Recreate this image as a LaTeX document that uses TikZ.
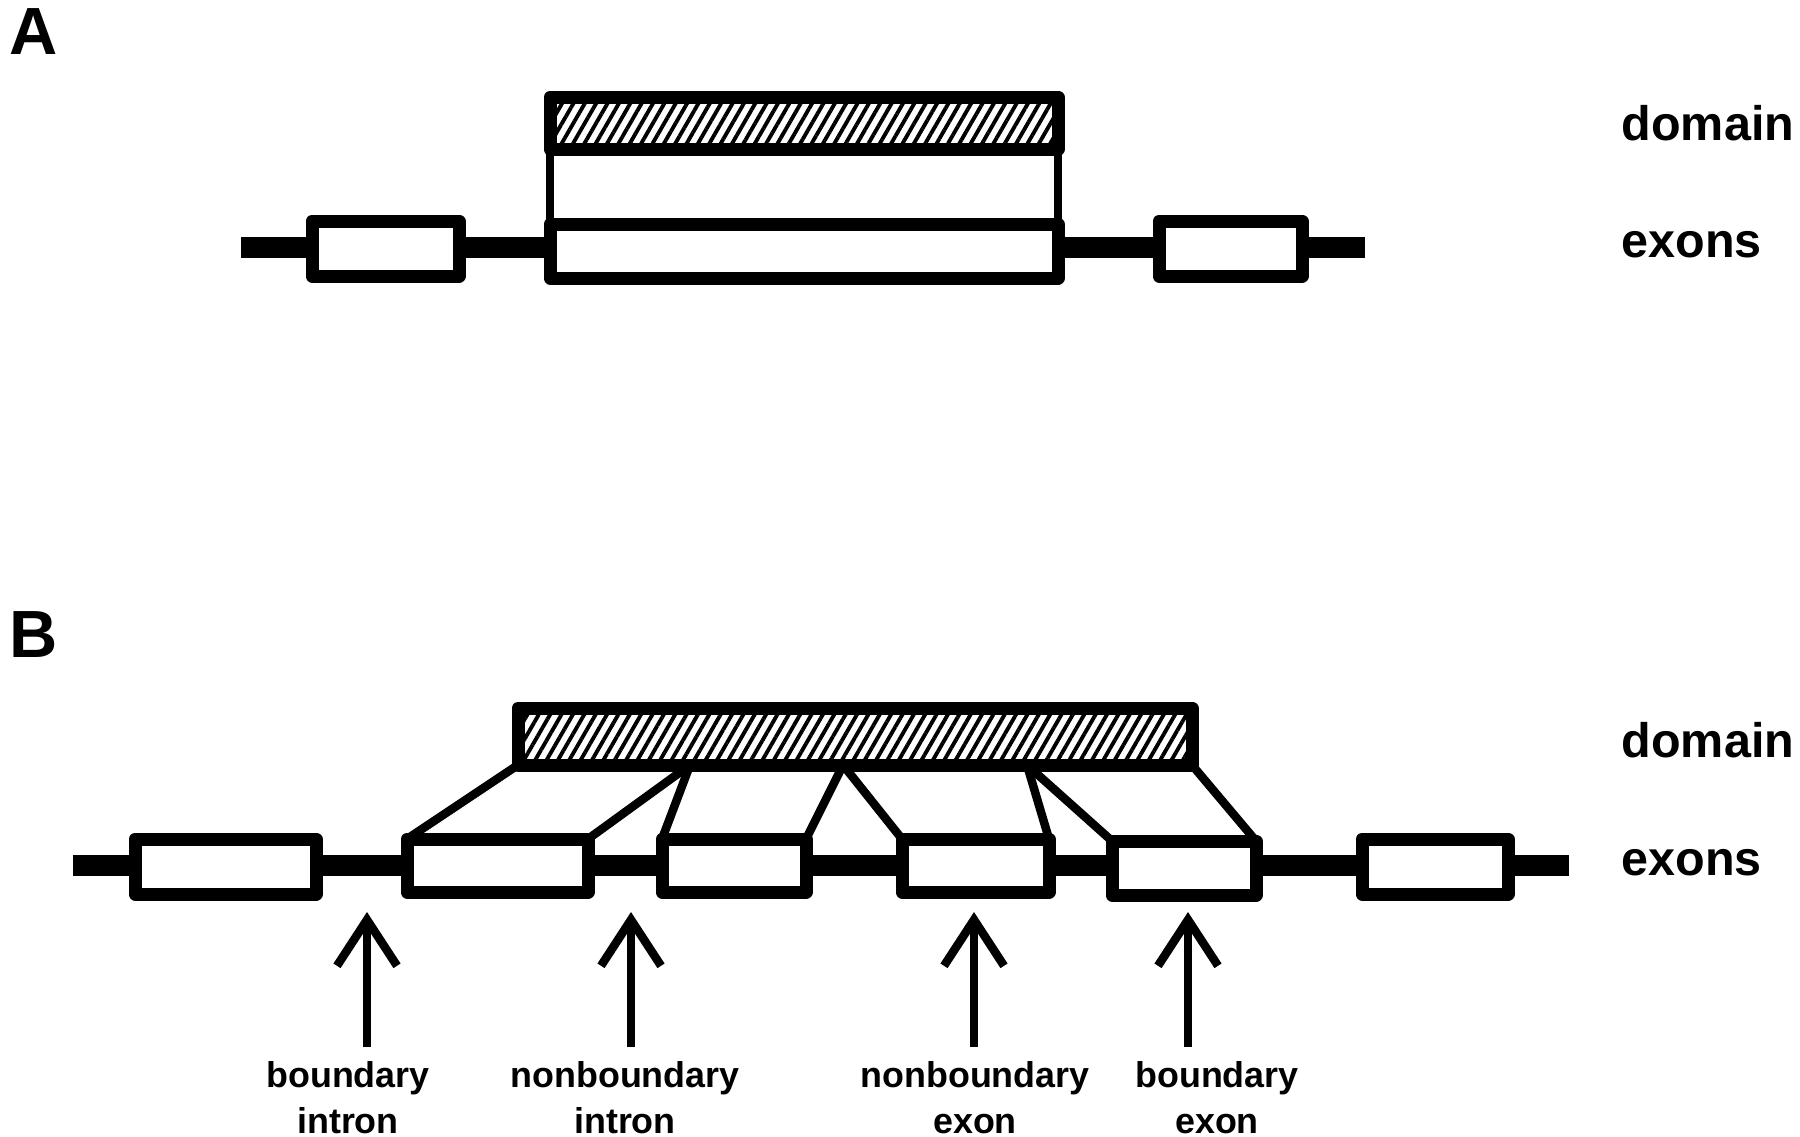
\documentclass[tikz,border=0pt]{standalone}
\usepackage{fontspec}
\setmainfont{Liberation Sans}
\usetikzlibrary{arrows.meta,fit,patterns.meta}

\begin{document}
\begin{tikzpicture}[
  x=0.1mm, y=-0.1mm,
  exon/.style={draw, fill=white, line width=1.3mm, inner sep=0pt, outer sep=0pt,
               line join=round},
  dom/.style={exon, preaction={fill=white},
              pattern={Lines[angle=60, distance=2.8pt, line width=1.1pt]}},
  intron/.style={line width=2.1mm},
  link/.style={line width=0.85mm},
  arr/.style={-{Straight Barb[length=4.6mm, width=6mm]}, line width=0.85mm},
  side/.style={font=\fontsize{13.8}{16}\selectfont\bfseries, inner sep=0pt},
  panel/.style={font=\fontsize{19}{22}\selectfont\bfseries, inner sep=0pt},
  lbl/.style={font=\fontsize{10.2}{13.1}\selectfont\bfseries, align=center,
              inner xsep=0pt, inner ysep=1.4mm, anchor=north}]
\useasboundingbox (0,0) rectangle (1800,1136);

% ---- panel A: one exon under the domain ----
\node[panel, anchor=base west] (labA) at (9,54) {A};
\coordinate (ia1) at (241,247);
\coordinate (ia2) at (1365,247);
\draw[intron] (ia1) -- (ia2);
\node[exon, fit={(312,221) (459,276)}] (xa1) {};
\node[exon, fit={(550,224) (1058,278)}] (xa2) {};
\node[exon, fit={(1159,221) (1302,276)}] (xa3) {};
\node[dom, fit={(550,97) (1058,149)}] (da) {};
\draw[link] (da.south west) -- (xa2.north west);
\draw[link] (da.south east) -- (xa2.north east);
\node[side, anchor=base west] (domA) at (1621,140) {domain};
\node[side, anchor=base west] (exA) at (1621,257) {exons};

% ---- panel B: domain over several exons ----
\node[panel, anchor=base west] (labB) at (9,657) {B};
\coordinate (ib1) at (73,865);
\coordinate (ib2) at (1569,865);
\draw[intron] (ib1) -- (ib2);
\node[exon, fit={(135,839) (316,894)}] (xb1) {};
\node[exon, fit={(407,839) (588,892)}] (xb2) {};
\node[exon, fit={(662,839) (806,892)}] (xb3) {};
\node[exon, fit={(902,839) (1049,892)}] (xb4) {};
\node[exon, fit={(1112,841) (1256,895)}] (xb5) {};
\node[exon, fit={(1362,839) (1508,894)}] (xb6) {};
\node[dom, fit={(518,708) (1192,765)}] (db) {};
\coordinate (j1) at (690,765);
\coordinate (j2) at (843,765);
\coordinate (j3) at (1027,765);
\draw[link] (db.south west) -- (xb2.north west);
\draw[link] (j1) -- (xb2.north east);
\draw[link] (j1) -- (xb3.north west);
\draw[link] (j2) -- (xb3.north east);
\draw[link] (j2) -- (xb4.north west);
\draw[link] (j3) -- (xb4.north east);
\draw[link] (j3) -- (xb5.north west);
\draw[link] (db.south east) -- (xb5.north east);
\node[side, anchor=base west] (domB) at (1621,757) {domain};
\node[side, anchor=base west] (exB) at (1621,875) {exons};

% ---- pointers ----
\coordinate (t1) at (367,912);
\coordinate (t2) at (631,912);
\coordinate (t3) at (974,912);
\coordinate (t4) at (1188,912);
\node[lbl] (lb1) at (348,1047) {boundary\\intron};
\node[lbl] (lb2) at (625,1047) {nonboundary\\intron};
\node[lbl] (lb3) at (975,1047) {nonboundary\\exon};
\node[lbl] (lb4) at (1217,1047) {boundary\\exon};
\draw[arr] (lb1.north -| t1) -- (t1);
\draw[arr] (lb2.north -| t2) -- (t2);
\draw[arr] (lb3.north -| t3) -- (t3);
\draw[arr] (lb4.north -| t4) -- (t4);
\end{tikzpicture}
\end{document}
